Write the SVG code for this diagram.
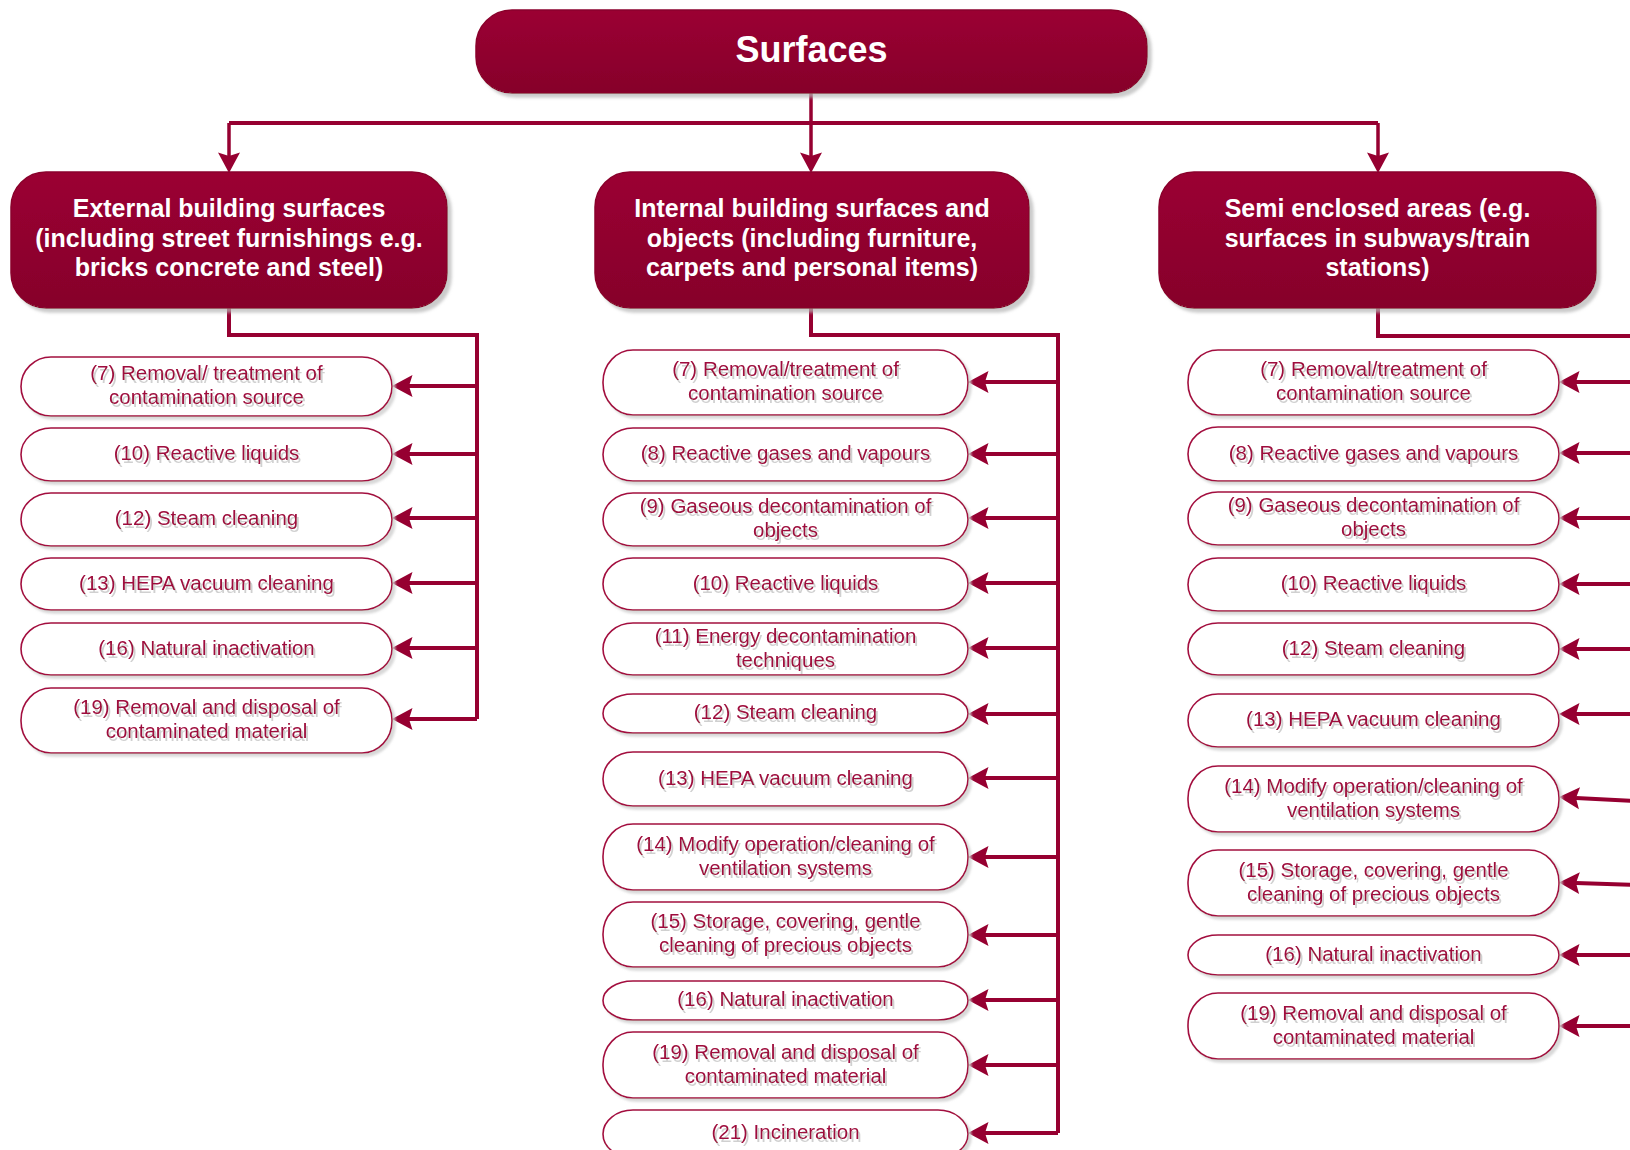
<svg xmlns="http://www.w3.org/2000/svg" width="1630" height="1150" viewBox="0 0 1630 1150">
<defs>
<linearGradient id="gr" x1="0" y1="0" x2="0" y2="1">
<stop offset="0" stop-color="#9b0032"/>
<stop offset="1" stop-color="#86002b"/>
</linearGradient>
<filter id="bs" x="-5%" y="-10%" width="115%" height="130%">
<feDropShadow dx="4" dy="4" stdDeviation="1.5" flood-color="#b5b5b5" flood-opacity="0.7"/>
</filter>
<filter id="is" x="-5%" y="-10%" width="115%" height="130%">
<feDropShadow dx="3" dy="3" stdDeviation="1" flood-color="#cfcfcf" flood-opacity="0.8"/>
</filter>
<filter id="ts" x="-5%" y="-20%" width="115%" height="150%">
<feDropShadow dx="2" dy="3" stdDeviation="0.6" flood-color="#c8c8c8" flood-opacity="0.85"/>
</filter>
<marker id="ah" markerUnits="userSpaceOnUse" orient="auto" viewBox="-4 -12 22 24" markerWidth="22" markerHeight="24" refX="0" refY="0">
<path d="M17,0 L-3.5,-11 L0,0 L-3.5,11 Z" fill="#960031"/>
</marker>
</defs>
<style>
.big{fill:url(#gr);stroke:#8a002c;stroke-width:1.5;filter:url(#bs)}
.bt{font-family:"Liberation Sans",Arial,sans-serif;font-weight:bold;fill:#ffffff;text-anchor:middle}
.t0{font-size:36px}
.t1{font-size:25px}
.it{fill:#ffffff;stroke:#a3103f;stroke-width:1.6;filter:url(#is)}
.tx{font-family:"Liberation Sans",Arial,sans-serif;font-size:20.5px;fill:#9e0b3c;text-anchor:middle;filter:url(#ts)}
.cn{fill:none;stroke:#960031;stroke-width:4;stroke-linejoin:miter}
.ar{fill:none;stroke:#960031;stroke-width:4;marker-end:url(#ah)}
.ar3{fill:none;stroke:#960031;stroke-width:3.5;marker-end:url(#ah)}
</style>
<rect width="1630" height="1150" fill="#ffffff"/>

<g id="connectors">
<path class="ar3" d="M811,93 V156"/>
<path class="cn" d="M229,123 H1378" stroke-width="3.5"/>
<path class="ar3" d="M229,123 V156"/>
<path class="ar3" d="M1378,123 V156"/>
<path class="cn" d="M229,308 V335 H477 V719"/>
<path class="ar" d="M477,386 H409"/>
<path class="ar" d="M477,454 H409"/>
<path class="ar" d="M477,518 H409"/>
<path class="ar" d="M477,583 H409"/>
<path class="ar" d="M477,648 H409"/>
<path class="ar" d="M477,719 H409"/>
<path class="cn" d="M811,308 V335 H1058 V1133"/>
<path class="ar" d="M1058,382 H985"/>
<path class="ar" d="M1058,454 H985"/>
<path class="ar" d="M1058,518 H985"/>
<path class="ar" d="M1058,583 H985"/>
<path class="ar" d="M1058,648 H985"/>
<path class="ar" d="M1058,714 H985"/>
<path class="ar" d="M1058,778 H985"/>
<path class="ar" d="M1058,857 H985"/>
<path class="ar" d="M1058,935 H985"/>
<path class="ar" d="M1058,1000 H985"/>
<path class="ar" d="M1058,1065 H985"/>
<path class="ar" d="M1058,1133 H985"/>
<path class="cn" d="M1378,308 V336 H1634"/>
<path class="ar" d="M1634,382 H1576"/>
<path class="ar" d="M1634,453 H1576"/>
<path class="ar" d="M1634,518 H1576"/>
<path class="ar" d="M1634,584 H1576"/>
<path class="ar" d="M1634,649 H1576"/>
<path class="ar" d="M1634,714 H1576"/>
<path class="ar" d="M1634,801 L1576,798"/>
<path class="ar" d="M1634,885 L1576,883"/>
<path class="ar" d="M1634,955 H1576"/>
<path class="ar" d="M1634,1026 H1576"/>
</g>

<g id="surfaces">
<rect class="big" x="476" y="10" width="671" height="83" rx="36"/>
<text class="bt t0" x="811.5" y="62">Surfaces</text>
</g>

<g id="external">
<rect class="big" x="11" y="172" width="436" height="136" rx="35"/>
<text class="bt t1" x="229" y="217">External building surfaces</text>
<text class="bt t1" x="229" y="246.5">(including street furnishings e.g.</text>
<text class="bt t1" x="229" y="276">bricks concrete and steel)</text>
</g>

<g id="internal">
<rect class="big" x="595" y="172" width="434" height="136" rx="35"/>
<text class="bt t1" x="812" y="217">Internal building surfaces and</text>
<text class="bt t1" x="812" y="246.5">objects (including furniture,</text>
<text class="bt t1" x="812" y="276">carpets and personal items)</text>
</g>

<g id="semi">
<rect class="big" x="1159" y="172" width="437" height="136" rx="35"/>
<text class="bt t1" x="1377.5" y="217">Semi enclosed areas (e.g.</text>
<text class="bt t1" x="1377.5" y="246.5">surfaces in subways/train</text>
<text class="bt t1" x="1377.5" y="276">stations)</text>
</g>

<g id="ext-7"><rect class="it" x="21" y="357" width="371" height="59" rx="30" ry="32"/><text class="tx" x="206.5" y="380">(7) Removal/ treatment of</text><text class="tx" x="206.5" y="404">contamination source</text></g>
<g id="ext-10"><rect class="it" x="21" y="428" width="371" height="53" rx="30" ry="32"/><text class="tx" x="206.5" y="460">(10) Reactive liquids</text></g>
<g id="ext-12"><rect class="it" x="21" y="493" width="371" height="53" rx="30" ry="32"/><text class="tx" x="206.5" y="525">(12) Steam cleaning</text></g>
<g id="ext-13"><rect class="it" x="21" y="558" width="371" height="52" rx="30" ry="32"/><text class="tx" x="206.5" y="589.5">(13) HEPA vacuum cleaning</text></g>
<g id="ext-16"><rect class="it" x="21" y="623" width="371" height="52" rx="30" ry="32"/><text class="tx" x="206.5" y="654.5">(16) Natural inactivation</text></g>
<g id="ext-19"><rect class="it" x="21" y="688" width="371" height="65" rx="30" ry="32"/><text class="tx" x="206.5" y="714">(19) Removal and disposal of</text><text class="tx" x="206.5" y="738">contaminated material</text></g>

<g id="int-7"><rect class="it" x="603" y="350" width="365" height="65" rx="30" ry="32"/><text class="tx" x="785.5" y="376">(7) Removal/treatment of</text><text class="tx" x="785.5" y="400">contamination source</text></g>
<g id="int-8"><rect class="it" x="603" y="428" width="365" height="53" rx="30" ry="32"/><text class="tx" x="785.5" y="460">(8) Reactive gases and vapours</text></g>
<g id="int-9"><rect class="it" x="603" y="493" width="365" height="53" rx="30" ry="32"/><text class="tx" x="785.5" y="513">(9) Gaseous decontamination of</text><text class="tx" x="785.5" y="537">objects</text></g>
<g id="int-10"><rect class="it" x="603" y="558" width="365" height="52" rx="30" ry="32"/><text class="tx" x="785.5" y="589.5">(10) Reactive liquids</text></g>
<g id="int-11"><rect class="it" x="603" y="623" width="365" height="52" rx="30" ry="32"/><text class="tx" x="785.5" y="642.5">(11) Energy decontamination</text><text class="tx" x="785.5" y="666.5">techniques</text></g>
<g id="int-12"><rect class="it" x="603" y="694" width="365" height="39" rx="30" ry="32"/><text class="tx" x="785.5" y="719">(12) Steam cleaning</text></g>
<g id="int-13"><rect class="it" x="603" y="752" width="365" height="54" rx="30" ry="32"/><text class="tx" x="785.5" y="784.5">(13) HEPA vacuum cleaning</text></g>
<g id="int-14"><rect class="it" x="603" y="824" width="365" height="66" rx="30" ry="32"/><text class="tx" x="785.5" y="850.5">(14) Modify operation/cleaning of</text><text class="tx" x="785.5" y="874.5">ventilation systems</text></g>
<g id="int-15"><rect class="it" x="603" y="902" width="365" height="65" rx="30" ry="32"/><text class="tx" x="785.5" y="928">(15) Storage, covering, gentle</text><text class="tx" x="785.5" y="952">cleaning of precious objects</text></g>
<g id="int-16"><rect class="it" x="603" y="981" width="365" height="39" rx="30" ry="32"/><text class="tx" x="785.5" y="1006">(16) Natural inactivation</text></g>
<g id="int-19"><rect class="it" x="603" y="1032" width="365" height="66" rx="30" ry="32"/><text class="tx" x="785.5" y="1058.5">(19) Removal and disposal of</text><text class="tx" x="785.5" y="1082.5">contaminated material</text></g>
<g id="int-21"><rect class="it" x="603" y="1110" width="365" height="48" rx="30" ry="32"/><text class="tx" x="785.5" y="1138.5">(21) Incineration</text></g>

<g id="semi-7"><rect class="it" x="1188" y="350" width="371" height="65" rx="30" ry="32"/><text class="tx" x="1373.5" y="376">(7) Removal/treatment of</text><text class="tx" x="1373.5" y="400">contamination source</text></g>
<g id="semi-8"><rect class="it" x="1188" y="427" width="371" height="54" rx="30" ry="32"/><text class="tx" x="1373.5" y="459.5">(8) Reactive gases and vapours</text></g>
<g id="semi-9"><rect class="it" x="1188" y="492" width="371" height="53" rx="30" ry="32"/><text class="tx" x="1373.5" y="512">(9) Gaseous decontamination of</text><text class="tx" x="1373.5" y="536">objects</text></g>
<g id="semi-10"><rect class="it" x="1188" y="558" width="371" height="53" rx="30" ry="32"/><text class="tx" x="1373.5" y="590">(10) Reactive liquids</text></g>
<g id="semi-12"><rect class="it" x="1188" y="623" width="371" height="52" rx="30" ry="32"/><text class="tx" x="1373.5" y="654.5">(12) Steam cleaning</text></g>
<g id="semi-13"><rect class="it" x="1188" y="694" width="371" height="53" rx="30" ry="32"/><text class="tx" x="1373.5" y="726">(13) HEPA vacuum cleaning</text></g>
<g id="semi-14"><rect class="it" x="1188" y="766" width="371" height="66" rx="30" ry="32"/><text class="tx" x="1373.5" y="792.5">(14) Modify operation/cleaning of</text><text class="tx" x="1373.5" y="816.5">ventilation systems</text></g>
<g id="semi-15"><rect class="it" x="1188" y="850" width="371" height="66" rx="30" ry="32"/><text class="tx" x="1373.5" y="876.5">(15) Storage, covering, gentle</text><text class="tx" x="1373.5" y="900.5">cleaning of precious objects</text></g>
<g id="semi-16"><rect class="it" x="1188" y="935" width="371" height="40" rx="30" ry="32"/><text class="tx" x="1373.5" y="960.5">(16) Natural inactivation</text></g>
<g id="semi-19"><rect class="it" x="1188" y="993" width="371" height="66" rx="30" ry="32"/><text class="tx" x="1373.5" y="1019.5">(19) Removal and disposal of</text><text class="tx" x="1373.5" y="1043.5">contaminated material</text></g>
</svg>
